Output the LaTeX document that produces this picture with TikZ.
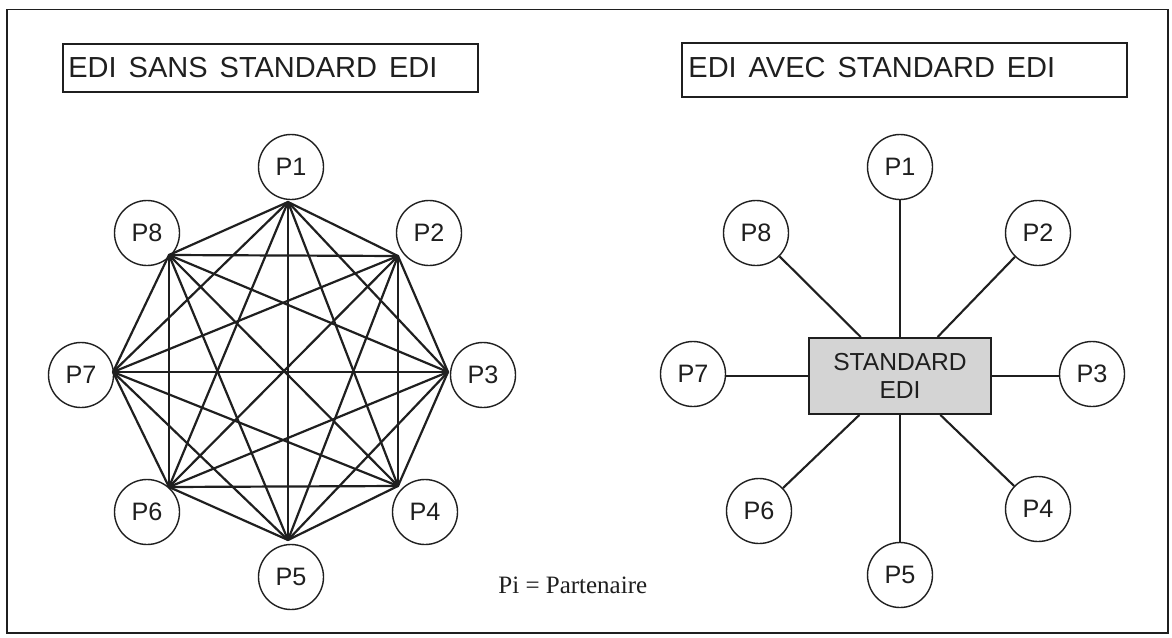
\documentclass[tikz,border=0pt]{standalone}
\usepackage{fontspec}
\setmainfont{Liberation Sans}
\newfontfamily\legendface{Liberation Serif}
\newcommand\wordgap{\hspace{6pt}}
\begin{document}
\begin{tikzpicture}[x=0.5pt,y=-0.5pt,
  inkcol/.style={draw=black!88},
  titlebox/.style={inkcol, line width=0.9pt, inner sep=0pt},
  titletext/.style={anchor=base west, inner sep=0pt, font=\fontsize{14.5}{17}\selectfont, text=black!88},
  partner/.style={circle, inkcol, line width=0.7pt, minimum size=32.5pt, inner sep=0pt,
                  font=\fontsize{12.6}{15}\selectfont, text=black!88},
  edge/.style={inkcol, line width=1.1pt, line cap=round},
  spoke/.style={inkcol, line width=0.7pt},
  diag/.style={inkcol, line width=1.05pt},
  stdbox/.style={rectangle, inkcol, line width=1pt, fill=black!17, minimum width=91pt,
                 minimum height=38pt, inner sep=0pt, align=center,
                 font=\fontsize{12.3}{14}\selectfont, text=black!88}]

\useasboundingbox (0,0) rectangle (1172,637);
\fill[white] (0,0) rectangle (1172,637);

% outer frame
\draw[inkcol, line width=0.65pt] (7,9.5) rectangle (1168,633);

% titles
\node[titlebox, minimum width=207.5pt, minimum height=24pt] (lbox) at (270.5,68) {};
\node[titletext] (ltitle) at (68,77) {EDI\wordgap SANS\wordgap STANDARD\wordgap EDI};
\node[titlebox, minimum width=222.5pt, minimum height=27pt] (rbox) at (904.5,70) {};
\node[titletext] (rtitle) at (688,77) {EDI\wordgap AVEC\wordgap STANDARD\wordgap EDI};

% ---- left: every partner linked to every other one ----
\foreach \i/\x/\y in {1/288/202, 2/398/256, 3/448/372, 4/398/486,
                      5/288/540, 6/169/487, 7/113/372, 8/169/255}
  \coordinate (v\i) at (\x,\y);

\foreach \i in {1,...,8}{
  \foreach \j in {1,...,8}{
    \ifnum\j>\i \draw[edge] (v\i) -- (v\j); \fi
  }
}

\node[partner] (l1) at (291,167) {P1};
\node[partner] (l2) at (429,233) {P2};
\node[partner] (l3) at (483,375) {P3};
\node[partner] (l4) at (425,512) {P4};
\node[partner] (l5) at (291,577) {P5};
\node[partner] (l6) at (147,512) {P6};
\node[partner] (l7) at (81,375)  {P7};
\node[partner] (l8) at (147,233) {P8};

% ---- right: every partner linked to the standard ----
\node[stdbox] (std) at (900,376) {STANDARD\\EDI};

\node[partner] (r1) at (900,167)  {P1};
\node[partner] (r2) at (1038,233) {P2};
\node[partner] (r3) at (1092,374) {P3};
\node[partner] (r4) at (1038,509) {P4};
\node[partner] (r5) at (900,575)  {P5};
\node[partner] (r6) at (759,511)  {P6};
\node[partner] (r7) at (693,374)  {P7};
\node[partner] (r8) at (756,233)  {P8};

\draw[spoke] (r1) -- (std);
\draw[spoke] (r5) -- (std);
\draw[spoke] (std.west) -- (std.west -| r7.east);
\draw[spoke] (std.east) -- (std.east -| r3.west);
\draw[diag] (r8) -- (std);
\draw[diag] (r2) -- (std);
\draw[diag] (r6) -- (std);
\draw[diag] (r4) -- (std);

% legend
\node[anchor=base west, inner sep=0pt, font=\legendface\fontsize{12.5}{15}\selectfont, text=black!88]
  (legend) at (498,593) {Pi = Partenaire};

\end{tikzpicture}
\end{document}
